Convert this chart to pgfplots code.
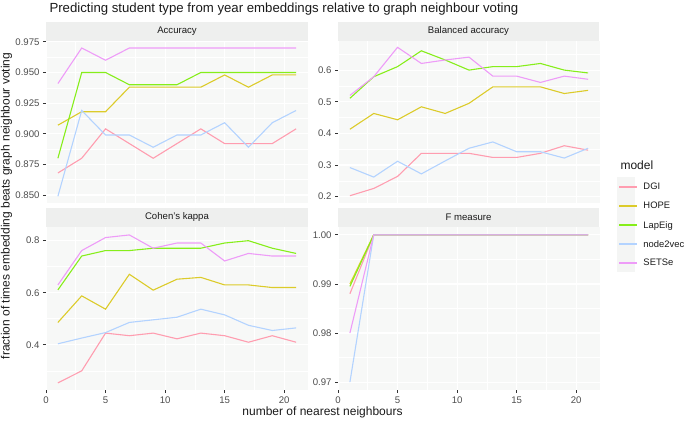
\documentclass[border=0pt]{standalone}
\usepackage{fontspec}
\setmainfont{Liberation Sans}
\usepackage{pgfplots}
\pgfplotsset{compat=1.18}
\usepackage{pgfplotstable}

\definecolor{cDGI}{HTML}{FF9DB0}
\definecolor{cHOPE}{HTML}{DCCB2A}
\definecolor{cLap}{HTML}{86EE1A}
\definecolor{cN2V}{HTML}{B3D3FF}
\definecolor{cSET}{HTML}{EE9CF8}
\definecolor{panelbg}{HTML}{F7F8F7}
\definecolor{stripbg}{HTML}{EEEFEE}
\definecolor{keybg}{HTML}{F4F5F4}
\definecolor{ticklab}{HTML}{4D4D4D}
\definecolor{tickcol}{HTML}{333333}
\definecolor{txt}{HTML}{1A1A1A}

\newcommand\tickfont{\fontsize{9.6bp}{11bp}\selectfont}
\newcommand\legfont{\fontsize{9.4bp}{11bp}\selectfont}
\newcommand\axfont{\fontsize{12bp}{14bp}\selectfont}
\newcommand\titfont{\fontsize{13.2bp}{15bp}\selectfont}

\pgfplotstableread{
k DGI HOPE LapEig node2vec SETSe
1 0.868 0.907 0.880 0.849 0.941
3 0.880 0.918 0.950 0.919 0.970
5 0.904 0.918 0.950 0.899 0.960
7 0.892 0.938 0.940 0.899 0.970
9 0.880 0.938 0.940 0.889 0.970
11 0.892 0.938 0.940 0.899 0.970
13 0.904 0.938 0.950 0.899 0.970
15 0.892 0.948 0.950 0.909 0.970
17 0.892 0.938 0.950 0.889 0.970
19 0.892 0.948 0.950 0.909 0.970
21 0.904 0.948 0.950 0.919 0.970
}\acc

\pgfplotstableread{
k DGI HOPE LapEig node2vec SETSe
1 0.203 0.413 0.511 0.292 0.520
3 0.226 0.463 0.579 0.262 0.579
5 0.264 0.443 0.611 0.312 0.672
7 0.337 0.484 0.661 0.272 0.621
9 0.337 0.463 0.632 0.313 0.632
11 0.337 0.495 0.600 0.353 0.641
13 0.324 0.547 0.611 0.373 0.581
15 0.324 0.547 0.611 0.342 0.581
17 0.337 0.547 0.621 0.342 0.561
19 0.361 0.526 0.600 0.322 0.581
21 0.347 0.536 0.591 0.353 0.571
}\bal

\pgfplotstableread{
k DGI HOPE LapEig node2vec SETSe
1 0.254 0.486 0.611 0.404 0.630
3 0.300 0.588 0.741 0.426 0.762
5 0.445 0.537 0.762 0.447 0.812
7 0.435 0.671 0.762 0.486 0.822
9 0.445 0.610 0.771 0.496 0.771
11 0.423 0.652 0.771 0.506 0.791
13 0.445 0.659 0.771 0.537 0.791
15 0.435 0.630 0.791 0.515 0.722
17 0.410 0.630 0.800 0.475 0.751
19 0.435 0.620 0.771 0.455 0.741
21 0.410 0.620 0.751 0.465 0.741
}\kap

\pgfplotstableread{
k DGI HOPE LapEig node2vec SETSe
1 0.988 0.990 0.9895 0.970 0.980
3 1.000 1.000 1.000 1.000 1.000
5 1.000 1.000 1.000 1.000 1.000
7 1.000 1.000 1.000 1.000 1.000
9 1.000 1.000 1.000 1.000 1.000
11 1.000 1.000 1.000 1.000 1.000
13 1.000 1.000 1.000 1.000 1.000
15 1.000 1.000 1.000 1.000 1.000
17 1.000 1.000 1.000 1.000 1.000
19 1.000 1.000 1.000 1.000 1.000
21 1.000 1.000 1.000 1.000 1.000
}\fme

\pgfplotsset{
  panel/.style={
    scale only axis, width=262bp,
    xmin=0, xmax=22,
    xtick={0,5,10,15,20}, xticklabels={0,5,10,15,20},
    minor xtick={2.5,7.5,12.5,17.5},
    axis line style={draw=none},
    axis background/.style={fill=panelbg},
    grid=both,
    major grid style={white, line width=1.15bp},
    minor grid style={white, line width=0.6bp},
    tick align=outside, tick pos=left,
    major tick length=3bp, minor tick length=0pt,
    tick style={tickcol, line width=0.8bp},
    ticklabel style={font=\tickfont, text=ticklab},
    /pgf/number format/assume math mode=true,
    every axis plot/.append style={line width=1.1bp, mark=none},
    legend image code/.code={%
      \path[draw=none, fill=none] (0bp,-9.5bp) rectangle (18bp,9.5bp);
      \draw[#1, line width=1.7bp] (0bp,0bp) -- (18bp,0bp);},
  },
  toprow/.style={xticklabels={}, x tick style={draw=none}, height=162bp},
  botrow/.style={height=163bp},
}

\newcommand\allseries[1]{%
  \addplot[cDGI] table[x=k,y=DGI]{#1};
  \addplot[cHOPE] table[x=k,y=HOPE]{#1};
  \addplot[cLap] table[x=k,y=LapEig]{#1};
  \addplot[cN2V] table[x=k,y=node2vec]{#1};
  \addplot[cSET] table[x=k,y=SETSe]{#1};
}

\begin{document}
\begin{tikzpicture}
\useasboundingbox (0,0) rectangle (685bp,421bp);

% strips
\fill[stripbg] (46bp,380bp) rectangle (308bp,399bp);
\fill[stripbg] (338bp,380bp) rectangle (599bp,399bp);
\fill[stripbg] (46bp,194bp) rectangle (308bp,213bp);
\fill[stripbg] (338bp,194bp) rectangle (599bp,213bp);
\node[font=\tickfont, text=txt] at (177bp,389.5bp) {Accuracy};
\node[font=\tickfont, text=txt] at (468.5bp,389.5bp) {Balanced accuracy};
\node[font=\tickfont, text=txt] at (177bp,203.5bp) {Cohen's kappa};
\node[font=\tickfont, text=txt] at (468.5bp,203.5bp) {F measure};

% legend key background
\fill[keybg] (617bp,149bp) rectangle (635bp,244bp);

\begin{axis}[panel, toprow, at={(46bp,218bp)},
  ymin=0.8435, ymax=0.9757,
  ytick={0.85,0.875,0.9,0.925,0.95,0.975},
  yticklabels={0.850,0.875,0.900,0.925,0.950,0.975},
  minor ytick={0.8625,0.8875,0.9125,0.9375,0.9625}]
\allseries{\acc}
\end{axis}

\begin{axis}[panel, toprow, at={(338bp,218bp)},
  ymin=0.180, ymax=0.692,
  ytick={0.2,0.3,0.4,0.5,0.6},
  yticklabels={0.2,0.3,0.4,0.5,0.6},
  minor ytick={0.25,0.35,0.45,0.55,0.65}]
\allseries{\bal}
\end{axis}

\begin{axis}[panel, botrow, at={(46bp,31bp)},
  ymin=0.2265, ymax=0.8525,
  ytick={0.4,0.6,0.8},
  yticklabels={0.4,0.6,0.8},
  minor ytick={0.3,0.5,0.7}]
\allseries{\kap}
\end{axis}

\begin{axis}[panel, botrow, at={(338bp,31bp)},
  ymin=0.9684, ymax=1.0016,
  ytick={0.97,0.98,0.99,1.0},
  yticklabels={0.97,0.98,0.99,1.00},
  minor ytick={0.975,0.985,0.995},
  legend style={at={(1.0690,1.30675)}, anchor=north west, draw=none, fill=none,
    inner xsep=0pt, inner ysep=0pt, row sep=0pt, column sep=5.5bp,
    nodes={inner sep=0pt, text depth=0pt, font=\legfont, text=txt},
    legend cell align=left}]
\allseries{\fme}
\legend{DGI,HOPE,LapEig,node2vec,SETSe}
\end{axis}

% titles
\node[anchor=base west, font=\titfont, text=txt] at (46bp,408.3bp)
  {Predicting student type from year embeddings relative to graph neighbour voting};
\node[anchor=base, font=\axfont, text=txt] at (322.5bp,6bp) {number of nearest neighbours};
\node[anchor=base, rotate=90, font=\axfont, text=txt] at (9.5bp,215bp)
  {fraction of times embedding beats graph neighbour voting};
\node[anchor=base west, font=\axfont, text=txt] at (617bp,251bp) {model};
\end{tikzpicture}
\end{document}
